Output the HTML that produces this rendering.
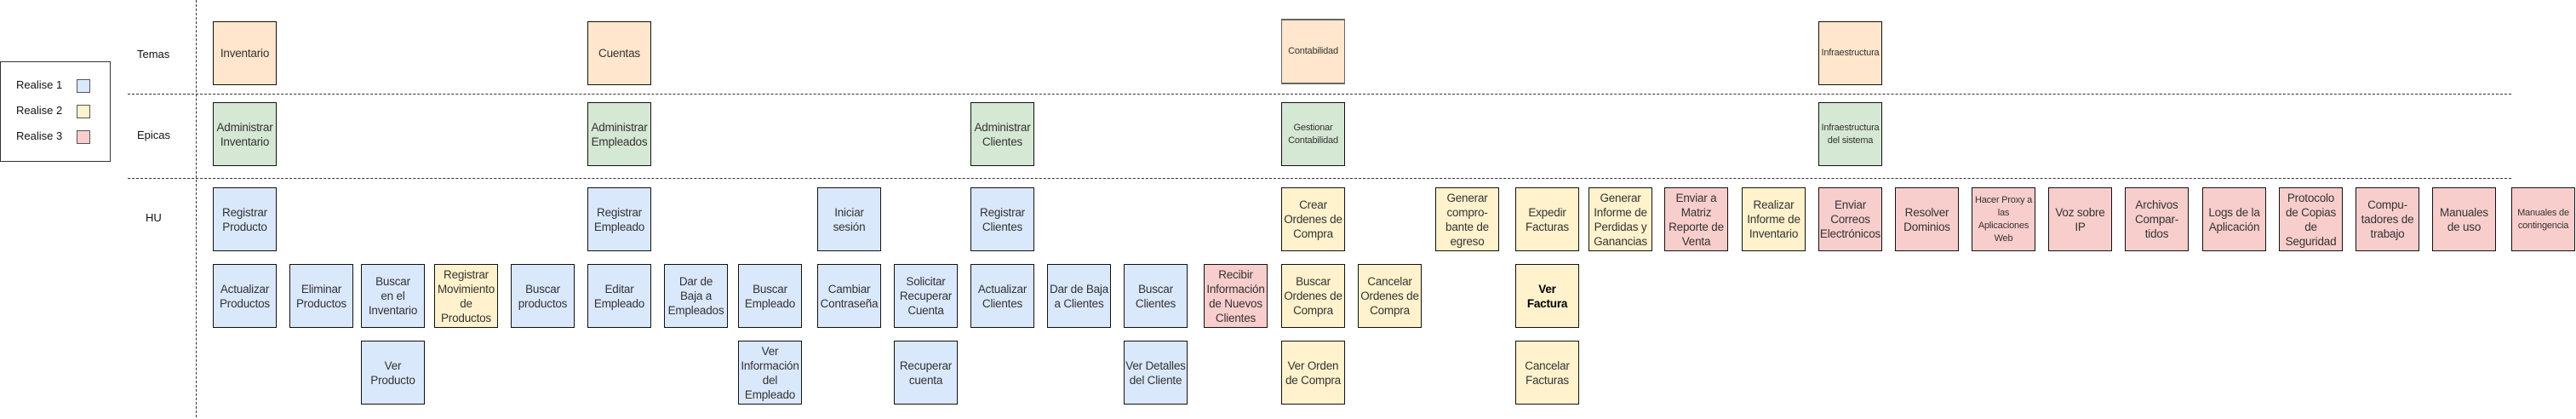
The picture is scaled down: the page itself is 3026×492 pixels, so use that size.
<!DOCTYPE html>
<html><head><meta charset="utf-8"><style>
body{margin:0;width:3026px;height:492px;background:#fff;position:relative;overflow:hidden;font-family:"Liberation Sans",sans-serif}
.b{position:absolute;width:73px;height:73px;border:1.5px solid #111;display:flex;align-items:center;justify-content:center;text-align:center;font-family:"Liberation Sans Narrow","Liberation Sans",sans-serif;font-size:13.5px;line-height:17px;letter-spacing:-0.2px;color:#333;box-sizing:content-box;overflow:hidden}
.o{background:#ffe6cc}.g{background:#d5e8d4}.u{background:#dae8fc}.y{background:#fff2cc}.r{background:#f8cecc}
.s{font-size:11px;line-height:15px}
.lbl{position:absolute;font-size:13px;color:#111}
.hd{position:absolute;height:0;border-top:1.5px dashed #333;left:150px;width:2800px}
</style></head><body>
<div style="position:absolute;left:230px;top:0;height:490px;border-left:1.5px dashed #333"></div>
<div class="hd" style="top:110px"></div>
<div class="hd" style="top:209px"></div>
<div style="position:absolute;left:0;top:72px;width:128px;height:116px;border:1.5px solid #333"></div>
<div class="lbl" style="left:19px;top:92px">Realise 1</div>
<div class="lbl" style="left:19px;top:122px">Realise 2</div>
<div class="lbl" style="left:19px;top:152px">Realise 3</div>
<div style="position:absolute;left:90px;top:93px;width:14px;height:14px;border:1.5px solid #555;background:#dae8fc"></div>
<div style="position:absolute;left:90px;top:123px;width:14px;height:14px;border:1.5px solid #555;background:#fff2cc"></div>
<div style="position:absolute;left:90px;top:153px;width:14px;height:14px;border:1.5px solid #555;background:#f8cecc"></div>
<div class="lbl" style="left:161px;top:56px">Temas</div>
<div class="lbl" style="left:161px;top:151px">Epicas</div>
<div class="lbl" style="left:171px;top:248px">HU</div>

<div class="b o" style="left:250px;top:25px">Inventario</div>
<div class="b o" style="left:690px;top:25px">Cuentas</div>
<div class="b o s" style="left:1505px;top:22px;border-color:#666;border-width:2px 1.5px">Contabilidad</div>
<div class="b o s" style="left:2136px;top:25px">Infraestructura</div>

<div class="b g" style="left:250px;top:120px">Administrar Inventario</div>
<div class="b g" style="left:690px;top:120px">Administrar Empleados</div>
<div class="b g" style="left:1140px;top:120px">Administrar Clientes</div>
<div class="b g s" style="left:1505px;top:120px">Gestionar Contabilidad</div>
<div class="b g s" style="left:2136px;top:120px">Infraestructura del sistema</div>

<div class="b u" style="left:250px;top:220px">Registrar Producto</div>
<div class="b u" style="left:690px;top:220px">Registrar Empleado</div>
<div class="b u" style="left:960px;top:220px">Iniciar sesión</div>
<div class="b u" style="left:1140px;top:220px">Registrar Clientes</div>
<div class="b y" style="left:1505px;top:220px">Crear Ordenes de Compra</div>
<div class="b y" style="left:1686px;top:220px">Generar compro-bante de egreso</div>
<div class="b y" style="left:1780px;top:220px">Expedir Facturas</div>
<div class="b y" style="left:1866px;top:220px">Generar Informe de Perdidas y Ganancias</div>
<div class="b r" style="left:1955px;top:220px">Enviar a Matriz Reporte de Venta</div>
<div class="b y" style="left:2046px;top:220px">Realizar Informe de Inventario</div>
<div class="b r" style="left:2136px;top:220px">Enviar Correos Electrónicos</div>
<div class="b r" style="left:2226px;top:220px">Resolver Dominios</div>
<div class="b r s" style="left:2316px;top:220px">Hacer Proxy a las Aplicaciones Web</div>
<div class="b r" style="left:2406px;top:220px">Voz sobre IP</div>
<div class="b r" style="left:2496px;top:220px">Archivos Compar-tidos</div>
<div class="b r" style="left:2587px;top:220px">Logs de la Aplicación</div>
<div class="b r" style="left:2677px;top:220px">Protocolo de Copias de Seguridad</div>
<div class="b r" style="left:2767px;top:220px">Compu-tadores de trabajo</div>
<div class="b r" style="left:2857px;top:220px">Manuales de uso</div>
<div class="b r s" style="left:2950px;top:220px">Manuales de contingencia</div>

<div class="b u" style="left:250px;top:310px">Actualizar Productos</div>
<div class="b u" style="left:340px;top:310px">Eliminar Productos</div>
<div class="b u" style="left:424px;top:310px">Buscar<br>en el<br>Inventario</div>
<div class="b y" style="left:510px;top:310px">Registrar Movimiento de Productos</div>
<div class="b u" style="left:600px;top:310px">Buscar productos</div>
<div class="b u" style="left:690px;top:310px">Editar Empleado</div>
<div class="b u" style="left:780px;top:310px">Dar de<br>Baja a<br>Empleados</div>
<div class="b u" style="left:867px;top:310px">Buscar Empleado</div>
<div class="b u" style="left:960px;top:310px">Cambiar Contraseña</div>
<div class="b u" style="left:1050px;top:310px">Solicitar Recuperar Cuenta</div>
<div class="b u" style="left:1140px;top:310px">Actualizar Clientes</div>
<div class="b u" style="left:1230px;top:310px">Dar de Baja a Clientes</div>
<div class="b u" style="left:1320px;top:310px">Buscar Clientes</div>
<div class="b r" style="left:1414px;top:310px">Recibir Información de Nuevos Clientes</div>
<div class="b y" style="left:1505px;top:310px">Buscar Ordenes de Compra</div>
<div class="b y" style="left:1595px;top:310px">Cancelar Ordenes de Compra</div>
<div class="b y" style="left:1780px;top:310px;color:#000;font-weight:bold">Ver<br>Factura</div>

<div class="b u" style="left:424px;top:400px">Ver Producto</div>
<div class="b u" style="left:867px;top:400px">Ver Información del Empleado</div>
<div class="b u" style="left:1050px;top:400px">Recuperar cuenta</div>
<div class="b u" style="left:1320px;top:400px">Ver Detalles del Cliente</div>
<div class="b y" style="left:1505px;top:400px">Ver Orden de Compra</div>
<div class="b y" style="left:1780px;top:400px">Cancelar Facturas</div>
</body></html>
